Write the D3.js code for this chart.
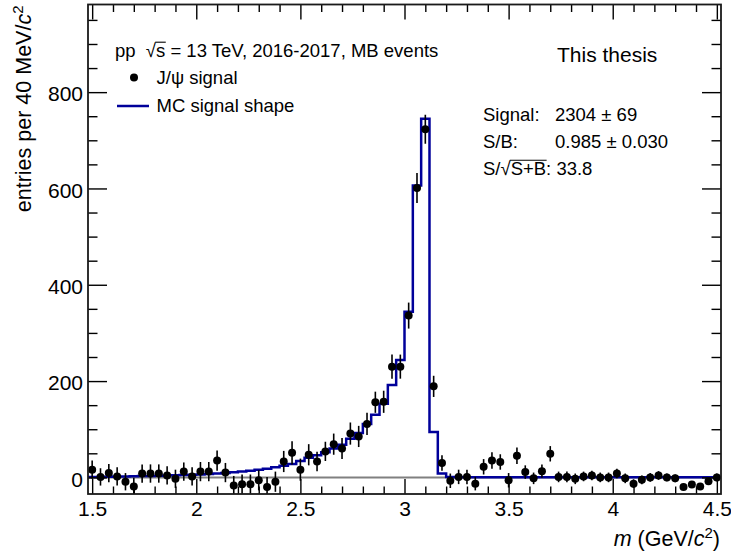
<!DOCTYPE html>
<html>
<head>
<meta charset="utf-8">
<script src="https://cdn.jsdelivr.net/npm/d3@7"></script>
<style>
  html, body { margin: 0; padding: 0; background: #fff; }
  svg { display: block; font-family: "Liberation Sans", Arial, Helvetica, sans-serif; }
</style>
</head>
<body>
<svg id="chart" width="731" height="554"></svg>
<script>
// Histogram binning: 40 MeV/c^2 bins starting at 1.48 GeV/c^2
const binLow = 1.48;
const binWidth = 0.04;

// Background-subtracted J/psi signal per bin (entries)
const signal = [
  16, 1, 9, 2, -9, -19, 8, 8, 8, 4, -3, 12, 2, 12, 12, 35, 10, -17, -14, -14, -6, -20, -9, 33, 51,
  16, 47, 33, 54, 69, 60, 91, 85, 111, 156, 157, 230, 230, 336, 601, 723, 189, 30, -7, 1, 1, -13, 22, 35, 32,
  -6, 45, 11, -2, 13, 49, 1, 1, -3, 2, 4, 0, 0, 8, -2, -13, -5, 0, 4, 0, -2, -20, -15, -19, -8,
  0
];

// Statistical uncertainty of each signal bin
const signalErr = [
  19, 18, 19, 19, 18, 18, 19, 19, 19, 19, 19, 19, 19, 20, 20, 21, 20, 20, 20, 20, 21, 21, 21, 22, 24,
  23, 22, 20, 20, 22, 22, 23, 22, 23, 22, 23, 25, 25, 27, 31, 30, 22, 16, 15, 15, 15, 14, 16, 17, 16,
  15, 17, 14, 12, 14, 16, 11, 11, 11, 10, 10, 10, 10, 10, 10, 9, 9, 9, 9, 8, 8, 6, 6, 5, 6,
  8
];

// Monte Carlo signal line shape, normalised to the signal yield
const mcShape = [
  1, 1, 1.5, 2, 2, 2.5, 3, 3, 3.5, 4, 4.5, 5, 5.5, 6, 7, 8, 9, 10.5, 12, 14, 16, 18, 21, 24, 28,
  34, 41, 46, 52, 60, 68, 80, 92, 111, 130, 153, 192, 244, 344, 606, 745, 94, 8, 1, 0.5, 0.5, 0.5, 0.5, 0.5, 0.5,
  0.5, 0.5, 0.4, 0.4, 0.4, 0.4, 0.4, 0.3, 0.3, 0.3, 0.3, 0.3, 0.3, 0.3, 0.3, 0.3, 0.3, 0.3, 0.3, 0.3, 0.3, 0.3, 0.3, 0.3, 0.3,
  0.3
];

// Axis ticks
const xTicks = [1.5, 2, 2.5, 3, 3.5, 4, 4.5];
const xMinorTicks = [1.6, 1.7, 1.8, 1.9, 2.1, 2.2, 2.3, 2.4, 2.6, 2.7, 2.8, 2.9, 3.1, 3.2, 3.3, 3.4,
                     3.6, 3.7, 3.8, 3.9, 4.1, 4.2, 4.3, 4.4];
const yTicks = [0, 200, 400, 600, 800];
const yMinorTicks = [50, 100, 150, 250, 300, 350, 450, 500, 550, 650, 700, 750, 850, 900, 950];

const xDomain = [1.48, 4.52];
const yDomain = [-34.5, 982];

const frame = { left: 88, right: 721, top: 4.5, bottom: 494 };
const mcColor = "#00009a";
const labelSize = 21;
const titleSize = 21.5;
const textSize = 18.5;

const svg = d3.select("#chart");
const x = d3.scaleLinear().domain(xDomain).range([frame.left, frame.right]);
const y = d3.scaleLinear().domain(yDomain).range([frame.bottom, frame.top]);

const bins = signal.map((v, i) => ({
  center: binLow + (i + 0.5) * binWidth,
  value: v,
  err: signalErr[i]
}));

svg.append("defs").append("clipPath").attr("id", "plotClip")
  .append("rect")
  .attr("x", frame.left).attr("y", frame.top)
  .attr("width", frame.right - frame.left).attr("height", frame.bottom - frame.top);

const plot = svg.append("g").attr("clip-path", "url(#plotClip)");

// zero line
plot.append("line")
  .attr("x1", frame.left).attr("x2", frame.right)
  .attr("y1", y(0)).attr("y2", y(0))
  .attr("stroke", "#808080").attr("stroke-width", 2);

// MC shape as a step histogram
const stepPts = mcShape.map((v, i) => [binLow + i * binWidth, v]);
stepPts.push([binLow + mcShape.length * binWidth, mcShape[mcShape.length - 1]]);
plot.append("path")
  .datum(stepPts)
  .attr("fill", "none")
  .attr("stroke", mcColor)
  .attr("stroke-width", 2.5)
  .attr("d", d3.line().x(d => x(d[0])).y(d => y(d[1])).curve(d3.curveStepAfter));

// data points with error bars
plot.append("g").selectAll("line").data(bins).join("line")
  .attr("x1", d => x(d.center)).attr("x2", d => x(d.center))
  .attr("y1", d => y(d.value - d.err)).attr("y2", d => y(d.value + d.err))
  .attr("stroke", "#000").attr("stroke-width", 1.6);
plot.append("g").selectAll("circle").data(bins).join("circle")
  .attr("cx", d => x(d.center)).attr("cy", d => y(d.value))
  .attr("r", 4).attr("fill", "#000");

// axes (ticks pointing into the frame)
function styleAxis(g) {
  g.select(".domain").remove();
  g.selectAll(".tick line").attr("stroke", "#000").attr("stroke-width", 1.4);
  g.selectAll(".tick text").attr("fill", "#000").attr("font-size", labelSize)
    .attr("font-family", '"Liberation Sans", Arial, sans-serif');
}
svg.append("g").attr("transform", `translate(0,${frame.bottom})`)
  .call(d3.axisBottom(x).tickValues(xTicks).tickSize(-15).tickPadding(7).tickFormat(d => String(d)))
  .call(styleAxis);
svg.append("g").attr("transform", `translate(0,${frame.bottom})`)
  .call(d3.axisBottom(x).tickValues(xMinorTicks).tickSize(-7.5).tickFormat(""))
  .call(styleAxis);
svg.append("g").attr("transform", `translate(0,${frame.top})`)
  .call(d3.axisTop(x).tickValues(xTicks).tickSize(-15).tickFormat(""))
  .call(styleAxis);
svg.append("g").attr("transform", `translate(0,${frame.top})`)
  .call(d3.axisTop(x).tickValues(xMinorTicks).tickSize(-7.5).tickFormat(""))
  .call(styleAxis);

svg.append("g").attr("transform", `translate(${frame.left},0)`)
  .call(d3.axisLeft(y).tickValues(yTicks).tickSize(-19).tickPadding(5).tickFormat(d => String(d)))
  .call(styleAxis)
  .call(g => g.selectAll(".tick text").attr("dy", "0.42em"));
svg.append("g").attr("transform", `translate(${frame.left},0)`)
  .call(d3.axisLeft(y).tickValues(yMinorTicks).tickSize(-9.5).tickFormat(""))
  .call(styleAxis);
svg.append("g").attr("transform", `translate(${frame.right},0)`)
  .call(d3.axisRight(y).tickValues(yTicks).tickSize(-19).tickFormat(""))
  .call(styleAxis);
svg.append("g").attr("transform", `translate(${frame.right},0)`)
  .call(d3.axisRight(y).tickValues(yMinorTicks).tickSize(-9.5).tickFormat(""))
  .call(styleAxis);

// frame
svg.append("rect")
  .attr("x", frame.left).attr("y", frame.top)
  .attr("width", frame.right - frame.left).attr("height", frame.bottom - frame.top)
  .attr("fill", "none").attr("stroke", "#1a1a1a").attr("stroke-width", 1.8);

// axis titles
const yTitle = svg.append("text")
  .attr("transform", `translate(31,${frame.top + 1}) rotate(-90)`)
  .attr("text-anchor", "end").attr("font-size", titleSize).attr("fill", "#000");
yTitle.append("tspan").text("entries per 40 MeV/");
yTitle.append("tspan").attr("font-style", "italic").text("c");
yTitle.append("tspan").attr("font-size", 15).attr("dy", -8).text("2");

const xTitle = svg.append("text")
  .attr("x", 720).attr("y", 546)
  .attr("text-anchor", "end").attr("font-size", titleSize).attr("fill", "#000");
xTitle.append("tspan").attr("font-style", "italic").text("m");
xTitle.append("tspan").text(" (GeV/");
xTitle.append("tspan").attr("font-style", "italic").text("c");
xTitle.append("tspan").attr("font-size", 15).attr("dy", -8).text("2");
xTitle.append("tspan").attr("dy", 8).text(")");

// text with a square-root sign: overline drawn from the radical over the radicand
function radicalText(px, py, size, pre, radicand, post) {
  const t = svg.append("text").attr("x", px).attr("y", py)
    .attr("font-size", size).attr("fill", "#000").attr("xml:space", "preserve");
  t.text(pre + "\u221A" + radicand + post);
  const node = t.node();
  const iRad = pre.length;
  const radExt = node.getExtentOfChar(iRad);
  const endExt = node.getExtentOfChar(iRad + radicand.length);
  const yLine = py - 0.80 * size;
  svg.append("line")
    .attr("x1", radExt.x + radExt.width - 0.8).attr("x2", endExt.x + endExt.width + 0.5)
    .attr("y1", yLine).attr("y2", yLine)
    .attr("stroke", "#000").attr("stroke-width", 1.1);
  return t;
}

// legend
radicalText(115, 57, textSize, "pp  ", "s", " = 13 TeV, 2016-2017, MB events");
svg.append("circle").attr("cx", 134).attr("cy", 77.5).attr("r", 4).attr("fill", "#000");
svg.append("text").attr("x", 156.5).attr("y", 83.5).attr("font-size", textSize).text("J/\u03C8 signal");
svg.append("line").attr("x1", 117).attr("x2", 149).attr("y1", 106).attr("y2", 106)
  .attr("stroke", mcColor).attr("stroke-width", 2.5);
svg.append("text").attr("x", 156.5).attr("y", 112).attr("font-size", textSize).text("MC signal shape");

// fit summary
svg.append("text").attr("x", 557).attr("y", 62).attr("font-size", 21).text("This thesis");
svg.append("text").attr("x", 483).attr("y", 121).attr("font-size", textSize).text("Signal:");
svg.append("text").attr("x", 555).attr("y", 121).attr("font-size", textSize).text("2304 \u00B1 69");
svg.append("text").attr("x", 483).attr("y", 148).attr("font-size", textSize).text("S/B:");
svg.append("text").attr("x", 555).attr("y", 148).attr("font-size", textSize).text("0.985 \u00B1 0.030");
radicalText(483, 175, textSize, "S/", "S+B", ": 33.8");
</script>
</body>
</html>
